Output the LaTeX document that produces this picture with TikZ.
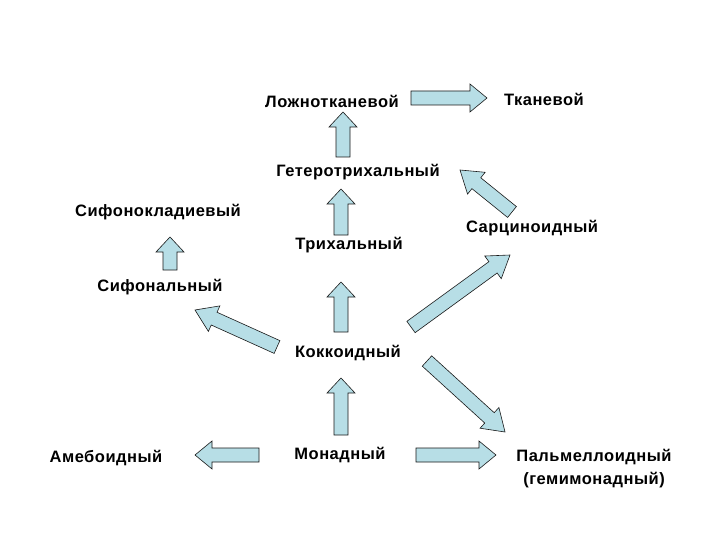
\documentclass[tikz,border=0pt]{standalone}
\usepackage{fontspec}
\setmainfont{Liberation Sans}[LetterSpace=3]
\usetikzlibrary{calc}
\definecolor{arrowblue}{RGB}{183,222,230}

% block arrow from #2 (tail) to #3 (tip), #1 = head length
\newcommand{\blockarrow}[3][17pt]{%
  \coordinate (hb) at ($(#3)!#1!(#2)$);
  \draw[barrow] ($(#2)!7pt!90:(#3)$) -- ($(hb)!7pt!90:(#3)$) -- ($(hb)!14pt!90:(#3)$) -- (#3)
    -- ($(hb)!14pt!-90:(#3)$) -- ($(hb)!7pt!-90:(#3)$) -- ($(#2)!7pt!-90:(#3)$) -- cycle;
}

\begin{document}
\begin{tikzpicture}[
  x=1pt, y=-1pt,
  lbl/.style={font=\fontsize{16.5}{23}\selectfont\bfseries, inner sep=0pt, align=center},
  barrow/.style={fill=arrowblue, draw=black!90, line width=0.6pt, line join=miter}
]
  \fill[white] (0,0) rectangle (720,540);
  \useasboundingbox (0,0) rectangle (720,540);

  \node[lbl] (lozh) at (332,101) {Ложнотканевой};
  \node[lbl] (tkan) at (544,99) {Тканевой};
  \node[lbl] (getero) at (358,172) {Гетеротрихальный};
  \node[lbl] (sifonokl) at (158,212) {Сифонокладиевый};
  \node[lbl] (sarc) at (532,228) {Сарциноидный};
  \node[lbl] (trich) at (349,245) {Трихальный};
  \node[lbl] (sifonal) at (160,287) {Сифональный};
  \node[lbl] (kokk) at (348,353) {Коккоидный};
  \node[lbl] (ameb) at (106,458) {Амебоидный};
  \node[lbl] (monad) at (340,455) {Монадный};
  \node[lbl] (palm) at (594,469) {Пальмеллоидный\\(гемимонадный)};

  \coordinate (lozh-r) at (411,98);   \coordinate (tkan-l) at (487,98);
  \coordinate (getero-u) at (343,157); \coordinate (lozh-d) at (343,112);
  \coordinate (trich-u) at (341,235); \coordinate (getero-d) at (341,189);
  \coordinate (kokk-u) at (341,332);  \coordinate (trich-d) at (341,282);
  \coordinate (monad-u) at (341,435); \coordinate (kokk-d) at (341,378);
  \coordinate (sifonal-u) at (170,270); \coordinate (sifonokl-d) at (170,237);
  \coordinate (kokk-ul) at (277,347); \coordinate (sifonal-dr) at (195,310);
  \coordinate (kokk-ur) at (411,327); \coordinate (sarc-dl) at (510,255);
  \coordinate (sarc-ul) at (512,212); \coordinate (getero-dr) at (460,170);
  \coordinate (kokk-dr) at (427,361); \coordinate (palm-ul) at (505,432);
  \coordinate (monad-l) at (259,455); \coordinate (ameb-r) at (195,455);
  \coordinate (monad-r) at (416,455); \coordinate (palm-l) at (496,455);

  \blockarrow{lozh-r}{tkan-l}
  \blockarrow[15pt]{getero-u}{lozh-d}
  \blockarrow[15pt]{trich-u}{getero-d}
  \blockarrow[15pt]{kokk-u}{trich-d}
  \blockarrow[15pt]{monad-u}{kokk-d}
  \blockarrow[15pt]{sifonal-u}{sifonokl-d}
  \blockarrow[21pt]{kokk-ul}{sifonal-dr}
  \blockarrow[21pt]{kokk-ur}{sarc-dl}
  \blockarrow[21pt]{sarc-ul}{getero-dr}
  \blockarrow[21pt]{kokk-dr}{palm-ul}
  \blockarrow{monad-l}{ameb-r}
  \blockarrow{monad-r}{palm-l}
\end{tikzpicture}
\end{document}
